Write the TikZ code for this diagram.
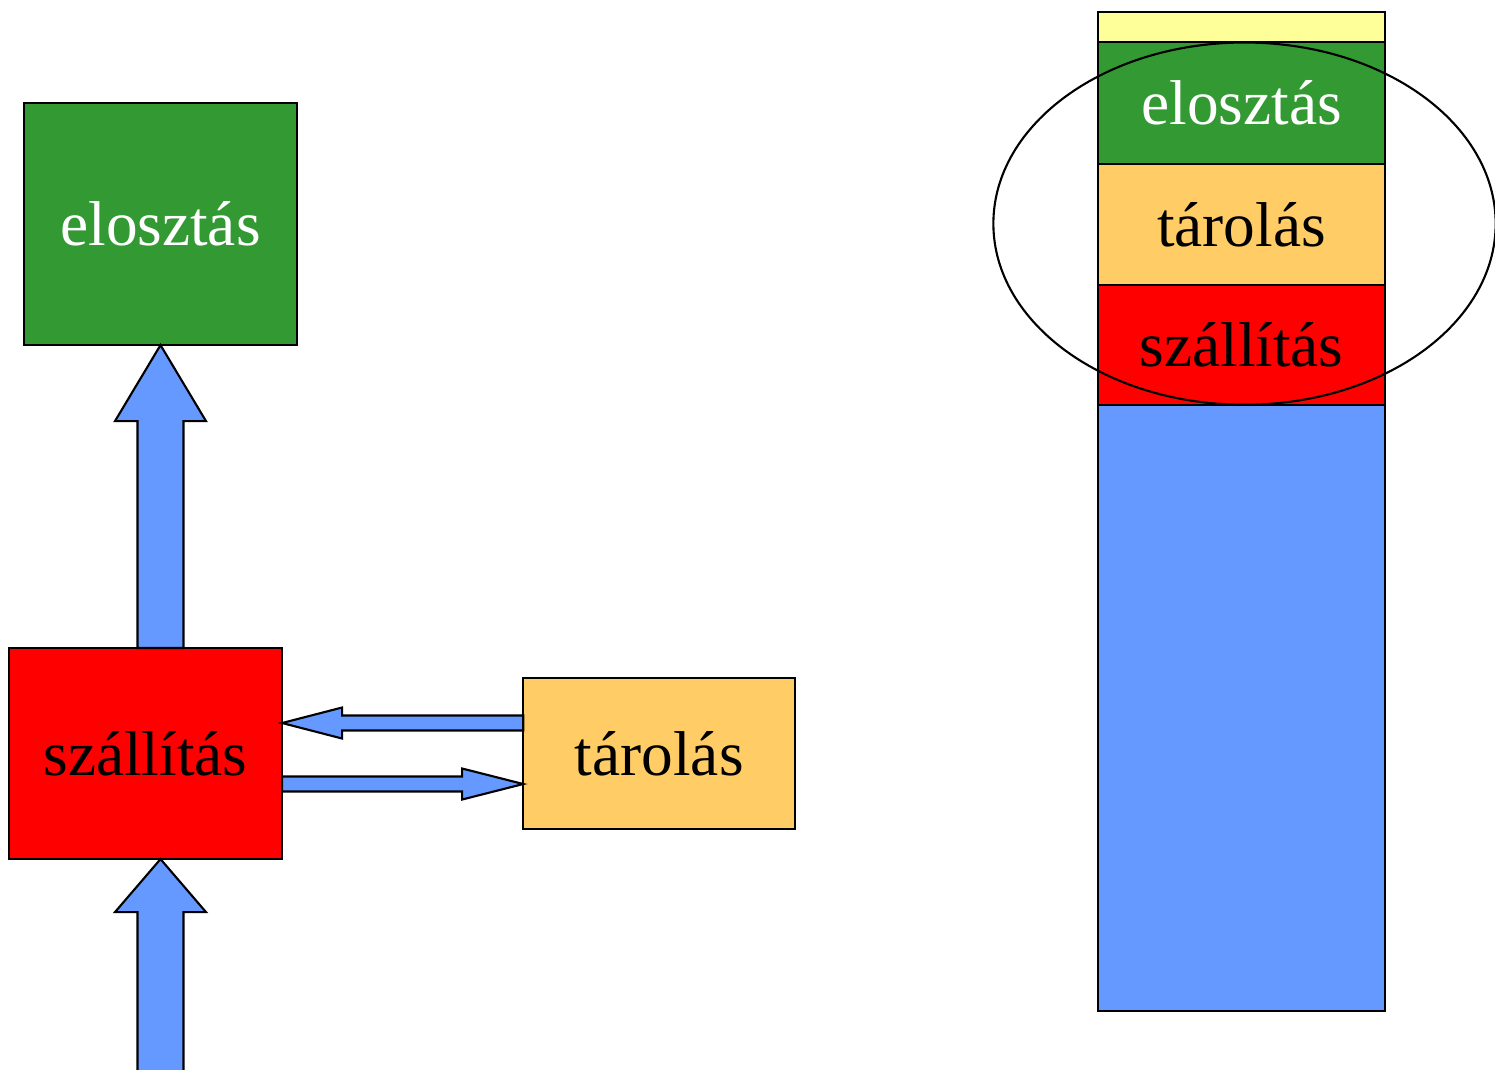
\documentclass[tikz,border=0pt]{standalone}
\usepackage{fontspec}
\setmainfont{Liberation Serif}
\usetikzlibrary{positioning,calc}

\definecolor{elogreen}{HTML}{339933}
\definecolor{tarorange}{HTML}{FFCC66}
\definecolor{topyellow}{HTML}{FFFF99}
\definecolor{arrblue}{HTML}{6699FF}

% block arrow: start, tip, shaft half width, head half width, head length
\newcommand\blockarrow[5]{%
  \draw[blockarr] ($(#1)!#3!90:(#2)$) -- ($($(#2)!#5!(#1)$)!#3!90:(#2)$)
    -- ($($(#2)!#5!(#1)$)!#4!90:(#2)$) -- (#2)
    -- ($($(#2)!#5!(#1)$)!#4!-90:(#2)$) -- ($($(#2)!#5!(#1)$)!#3!-90:(#2)$)
    -- ($(#1)!#3!-90:(#2)$) -- cycle;}

\begin{document}
\begin{tikzpicture}[x=0.01cm, y=-0.01cm, line width=0.6pt,
  box/.style = {draw, outer sep=0pt, inner sep=0pt, font=\fontsize{18}{21}\selectfont},
  stack/.style = {box, minimum width=2.87cm},
  blockarr/.style = {draw, fill=arrblue, line join=miter}]
  \useasboundingbox (0,0) rectangle (1495,1069);

  % Left part
  \node[box, fill=elogreen, text=white, minimum width=2.73cm, minimum height=2.42cm] (elo) at (160.5,224) {elosztás};
  \node[box, fill=red, minimum width=2.73cm, minimum height=2.11cm] (szall) at (145.5,753.5) {szállítás};
  \node[box, fill=tarorange, minimum width=2.72cm, minimum height=1.51cm] (tar) [right=2.41cm of szall] {tárolás};

  \coordinate (bot) at (160.5,1075);
  \coordinate (up1) at (elo.south |- szall.north);
  \coordinate (up2) at (elo.south |- szall.south);
  \coordinate (la) at ($(tar.west)+(0,-30.5)$);
  \coordinate (lb) at ($(szall.east)+(0,-30.5)$);
  \coordinate (ra) at ($(szall.east)+(0,30.5)$);
  \coordinate (rb) at ($(tar.west)+(0,30.5)$);

  % Arrows
  \blockarrow{up1}{elo.south}{0.23cm}{0.455cm}{0.76cm}
  \blockarrow{bot}{up2}{0.23cm}{0.455cm}{0.53cm}
  \blockarrow{la}{lb}{0.075cm}{0.155cm}{0.6cm}
  \blockarrow{ra}{rb}{0.075cm}{0.155cm}{0.61cm}

  % Right column
  \node[stack, fill=topyellow, minimum height=0.30cm] (top) at (1241.5,27) {};
  \node[stack, fill=elogreen, text=white, minimum height=1.22cm] (elo2) [below=0pt of top] {elosztás};
  \node[stack, fill=tarorange, minimum height=1.21cm] (tar2) [below=0pt of elo2] {tárolás};
  \node[stack, fill=red, minimum height=1.20cm] (szall2) [below=0pt of tar2] {szállítás};
  \node[stack, fill=arrblue, minimum height=6.05cm] (base) [below=0pt of szall2] {};

  \draw ($(tar2.center)+(3,-1)$) ellipse [x radius=2.51cm, y radius=1.81cm];
\end{tikzpicture}
\end{document}
